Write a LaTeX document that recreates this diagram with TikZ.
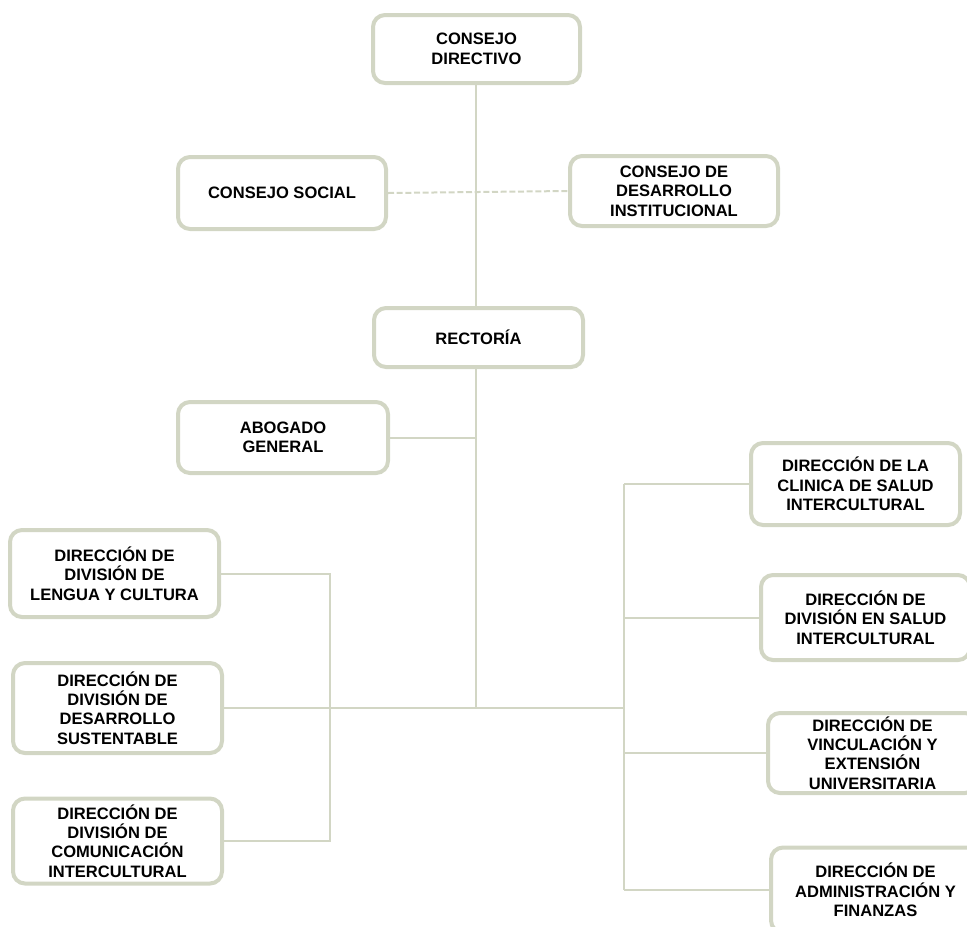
\documentclass[tikz,border=0pt]{standalone}
\usepackage{fontspec}
\setmainfont{Liberation Sans}
\definecolor{salvia}{RGB}{210,214,196}
\tikzset{every picture/.style={line width=0.75pt}}
\tikzset{
  caja/.style={draw=salvia, line width=3pt, rounded corners=9pt, fill=white, align=center,
    inner sep=0pt, font=\bfseries\fontsize{12.4}{14.6}\selectfont},
  linea/.style={draw=salvia, line width=1.5pt},
  punteada/.style={draw=salvia, line width=1.5pt, dash pattern={on 4.5pt off 2pt}}
}

\begin{document}
\begin{tikzpicture}[x=0.75pt,y=0.75pt,yscale=-1,xscale=1]
\useasboundingbox (0,0) rectangle (967,926);
\clip (0,0) rectangle (967,926);

%Rounded Rect: upper levels
\node[caja, minimum width=155.25pt, minimum height=51pt] (directivo) at (476.5,49) {CONSEJO\\DIRECTIVO};
\node[caja, minimum width=156pt, minimum height=54pt] (social) at (282,193) {CONSEJO SOCIAL};
\node[caja, minimum width=156pt, minimum height=52.5pt] (desinst) at (674,191) {CONSEJO DE\\DESARROLLO\\INSTITUCIONAL};
\node[caja, minimum width=156.75pt, minimum height=44.25pt] (rectoria) at (478.5,337.5) {RECTORÍA};
\node[caja, minimum width=157.5pt, minimum height=53.25pt] (abogado) at (283,437.5) {ABOGADO\\GENERAL};

%Rounded Rect: left divisions
\node[caja, minimum width=156.75pt, minimum height=65.25pt] (lengua) at (114.5,573.5) {DIRECCIÓN DE\\DIVISIÓN DE\\LENGUA Y CULTURA};
\node[caja, minimum width=156.75pt, minimum height=67.5pt] (sustent) at (117.5,708) {DIRECCIÓN DE\\DIVISIÓN DE\\DESARROLLO\\SUSTENTABLE};
\node[caja, minimum width=156.75pt, minimum height=63.75pt] (comunic) at (117.5,841) {DIRECCIÓN DE\\DIVISIÓN DE\\COMUNICACIÓN\\INTERCULTURAL};

%Rounded Rect: right directions
\node[caja, minimum width=156.75pt, minimum height=61.5pt] (clinica) at (855.5,484) {DIRECCIÓN DE LA\\CLINICA DE SALUD\\INTERCULTURAL};
\node[caja, minimum width=156.75pt, minimum height=63.75pt] (salud) at (865.5,617.5) {DIRECCIÓN DE\\DIVISIÓN EN SALUD\\INTERCULTURAL};
\node[caja, minimum width=156.75pt, minimum height=60pt] (vincula) at (872.5,753) {DIRECCIÓN DE\\VINCULACIÓN Y\\EXTENSIÓN\\UNIVERSITARIA};
\node[caja, minimum width=156.75pt, minimum height=63.75pt] (adminis) at (875.5,890) {DIRECCIÓN DE\\ADMINISTRACIÓN Y\\FINANZAS};

%Coordinates of the buses
\coordinate (eje) at (476,708);
\coordinate (izq) at (330,708);
\coordinate (derA) at (624,484);
\coordinate (derB) at (624,890);

%Straight Lines
\draw[linea] (directivo.south -| eje) -- (rectoria.north -| eje);
\draw[punteada] (social.east) -- (desinst.west);
\draw[linea] (abogado.east) -- (abogado.east -| eje);
\draw[linea] (rectoria.south -| eje) -- (eje);
\draw[linea] (sustent.east) -- (sustent.east -| derA);
\draw[linea] (lengua.east) -- (lengua.east -| izq) -- (comunic.east -| izq) -- (comunic.east);
\draw[linea] (derA) -- (derB);
\foreach \n in {clinica,salud,vincula,adminis}
  \draw[linea] (\n.west) -- (\n.west -| derA);

\end{tikzpicture}
\end{document}
